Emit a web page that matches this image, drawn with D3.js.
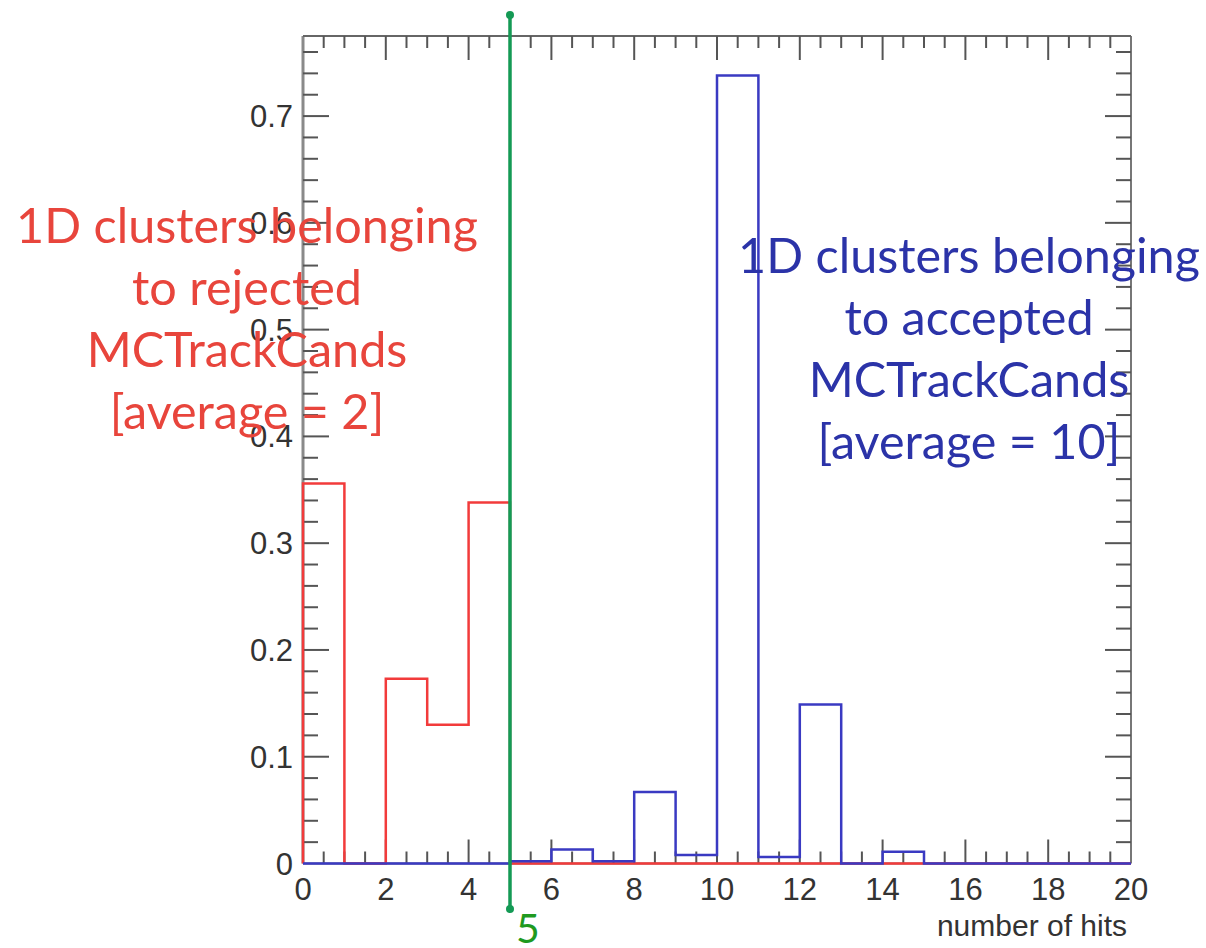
<!DOCTYPE html>
<html>
<head>
<meta charset="utf-8">
<script src="https://cdn.jsdelivr.net/npm/d3@7"></script>
<style>
  body { margin: 0; background: #fff; }
  svg { display: block; }
</style>
</head>
<body>
<script>
// bin edges 0..20, width 1
const binEdges = d3.range(0, 21);
// fraction per bin, rejected (red) and accepted (blue)
const rejected = [0.356, 0, 0.173, 0.130, 0.338, 0, 0, 0, 0, 0, 0, 0, 0, 0, 0, 0, 0, 0, 0, 0];
const accepted = [0, 0, 0, 0, 0, 0.002, 0.013, 0.002, 0.067, 0.008, 0.738, 0.006, 0.149, 0, 0.011, 0, 0, 0, 0, 0];
const xTicks = [0, 2, 4, 6, 8, 10, 12, 14, 16, 18, 20];
const yTicks = [0, 0.1, 0.2, 0.3, 0.4, 0.5, 0.6, 0.7];
const cutValue = 5;

const redText = ["1D clusters belonging", "to rejected", "MCTrackCands", "[average = 2]"];
const blueText = ["1D clusters belonging", "to accepted", "MCTrackCands", "[average = 10]"];

const W = 1206, H = 948;
const svg = d3.select("body").append("svg")
    .attr("width", W)
    .attr("height", H);

svg.append("rect").attr("width", W).attr("height", H).attr("fill", "#fff");

const x = d3.scaleLinear().domain([0, 20]).range([303, 1131]);
const y = d3.scaleLinear().domain([0, 0.775]).range([863.5, 36]);

// frame
const frame = svg.append("g");
frame.append("line").attr("x1", x(0)).attr("x2", x(0)).attr("y1", y(0.775)).attr("y2", y(0))
    .attr("stroke", "#8a8a8a").attr("stroke-width", 3);
frame.append("line").attr("x1", x(20)).attr("x2", x(20)).attr("y1", y(0.775)).attr("y2", y(0))
    .attr("stroke", "#777").attr("stroke-width", 2);
frame.append("line").attr("x1", x(0)).attr("x2", x(20)).attr("y1", y(0.775)).attr("y2", y(0.775))
    .attr("stroke", "#666").attr("stroke-width", 2);
frame.append("line").attr("x1", x(0)).attr("x2", x(20)).attr("y1", y(0)).attr("y2", y(0))
    .attr("stroke", "#777").attr("stroke-width", 2);

// ticks every 0.5 on x, every 0.02 on y
const xMinor = d3.range(0.5, 20, 0.5);
const yMinor = d3.range(0.02, 0.775, 0.02);
const tickCol = "#555";

function isMajorX(v) { return Math.abs(v / 2 - Math.round(v / 2)) < 1e-6; }
function isMajorY(v) { return Math.abs(v * 10 - Math.round(v * 10)) < 1e-6; }

const tk = svg.append("g").attr("stroke", tickCol).attr("stroke-width", 2);
// bottom and top
xMinor.forEach(v => {
    const len = isMajorX(v) ? 24 : 12;
    tk.append("line").attr("x1", x(v)).attr("x2", x(v)).attr("y1", y(0)).attr("y2", y(0) - len);
    tk.append("line").attr("x1", x(v)).attr("x2", x(v)).attr("y1", y(0.775)).attr("y2", y(0.775) + len);
});
// left and right
yMinor.forEach(v => {
    const len = isMajorY(v) ? 26 : 15;
    tk.append("line").attr("x1", x(0)).attr("x2", x(0) + len).attr("y1", y(v)).attr("y2", y(v));
    tk.append("line").attr("x1", x(20)).attr("x2", x(20) - len).attr("y1", y(v)).attr("y2", y(v));
});

// tick labels
const labelFont = "'Liberation Sans', Arial, sans-serif";
svg.append("g").selectAll("text")
    .data(xTicks)
    .enter().append("text")
    .attr("x", d => x(d))
    .attr("y", 900)
    .attr("text-anchor", "middle")
    .attr("font-family", labelFont)
    .attr("font-size", 31)
    .attr("fill", "#333")
    .text(d => d);

svg.append("g").selectAll("text")
    .data(yTicks)
    .enter().append("text")
    .attr("x", 293)
    .attr("y", d => y(d) + 11)
    .attr("text-anchor", "end")
    .attr("font-family", labelFont)
    .attr("font-size", 31)
    .attr("fill", "#333")
    .text(d => d === 0 ? "0" : d3.format(".1f")(d));

svg.append("text")
    .attr("x", 1127).attr("y", 936)
    .attr("text-anchor", "end")
    .attr("font-family", labelFont)
    .attr("font-size", 30)
    .attr("fill", "#333")
    .text("number of hits");

// step outline for a histogram
function stepPath(vals) {
    const pts = [[x(0), y(0)]];
    vals.forEach((v, i) => {
        pts.push([x(binEdges[i]), y(v)]);
        pts.push([x(binEdges[i + 1]), y(v)]);
    });
    pts.push([x(20), y(0)]);
    return d3.line()(pts);
}

svg.append("path").attr("d", stepPath(rejected))
    .attr("fill", "none").attr("stroke", "#f23b3b").attr("stroke-width", 2.5);
svg.append("path").attr("d", stepPath(accepted))
    .attr("fill", "none").attr("stroke", "#3a3ac2").attr("stroke-width", 2.5);

// cut line at 5
const gx = x(cutValue);
svg.append("line").attr("x1", gx).attr("x2", gx).attr("y1", 15).attr("y2", 909)
    .attr("stroke", "#149a55").attr("stroke-width", 3.5);
svg.append("circle").attr("cx", gx).attr("cy", 15).attr("r", 4).attr("fill", "#149a55");
svg.append("circle").attr("cx", gx).attr("cy", 909).attr("r", 4).attr("fill", "#149a55");
svg.append("text")
    .attr("x", 516).attr("y", 943)
    .attr("font-family", "Lato, sans-serif")
    .attr("font-size", 41)
    .attr("fill", "#1f9a1f")
    .text(cutValue);

// annotations
const noteFont = "Lato, 'Open Sans', sans-serif";
svg.append("g").selectAll("text")
    .data(redText)
    .enter().append("text")
    .attr("x", 247)
    .attr("y", (d, i) => 243 + i * 62)
    .attr("text-anchor", "middle")
    .attr("font-family", noteFont)
    .attr("font-size", 48.5)
    .attr("fill", "#e8453c")
    .text(d => d);

svg.append("g").selectAll("text")
    .data(blueText)
    .enter().append("text")
    .attr("x", 969)
    .attr("y", (d, i) => 273 + i * 62)
    .attr("text-anchor", "middle")
    .attr("font-family", noteFont)
    .attr("font-size", 48.5)
    .attr("fill", "#2b33a8")
    .text(d => d);
</script>
</body>
</html>
